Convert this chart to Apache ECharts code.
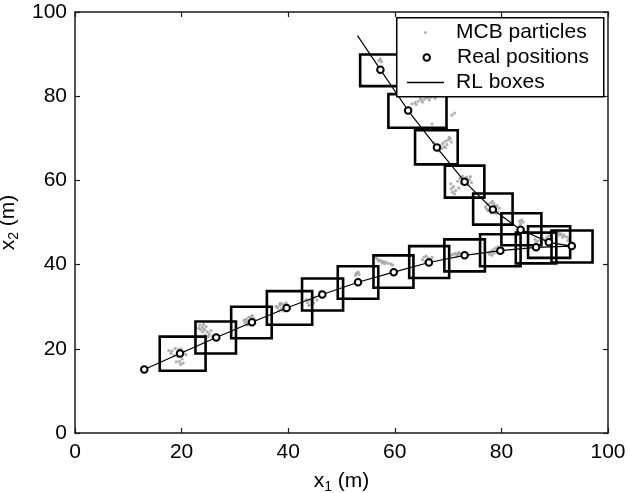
<!DOCTYPE html>
<html>
<head>
<meta charset="utf-8">
<script src="https://cdn.jsdelivr.net/npm/echarts@6/dist/echarts.min.js"></script>
<style>html,body{margin:0;padding:0;background:#fff}#c{width:628px;height:493px}</style>
</head>
<body>
<div id="c"></div>
<script>
// ---- data ----
const xTicks = [0, 20, 40, 60, 80, 100];
const yTicks = [0, 20, 40, 60, 80, 100];

// true trajectory polyline (starts above the first upper circle)
const trajectory = [
  [53.0, 94.4], [57.3, 86.3], [62.5, 76.6], [67.9, 67.8], [73.1, 59.7], [78.4, 53.1],
  [83.6, 48.3], [88.9, 45.3], [93.2, 44.4], [86.5, 44.1], [79.8, 43.3], [73.1, 42.2],
  [66.4, 40.5], [59.8, 38.2], [53.1, 35.8], [46.4, 32.9], [39.7, 29.7], [33.2, 26.3],
  [26.5, 22.7], [19.7, 18.9], [13.0, 15.1]
];

// real positions (circles)
const realPositions = [
  [57.3, 86.3], [62.5, 76.6], [67.9, 67.8], [73.1, 59.7], [78.4, 53.1], [83.6, 48.3],
  [88.9, 45.3], [93.2, 44.4], [86.5, 44.1], [79.8, 43.3], [73.1, 42.2], [66.4, 40.5],
  [59.8, 38.2], [53.1, 35.8], [46.4, 32.9], [39.7, 29.7], [33.2, 26.3], [26.5, 22.7],
  [19.7, 18.9], [13.0, 15.1]
];

// RL boxes: [xMin, xMax, yMin, yMax]
const rlBoxes = [
  [15.9, 24.5, 14.8, 22.9], [22.6, 30.2, 18.9, 26.5], [29.3, 36.9, 22.5, 30.0],
  [36.0, 44.5, 25.7, 33.7], [42.6, 50.3, 29.1, 36.7], [49.3, 56.9, 31.9, 39.6],
  [56.0, 63.5, 34.5, 42.2], [62.7, 70.2, 36.8, 44.4], [69.3, 76.9, 38.4, 46.0],
  [76.0, 83.6, 39.6, 47.2], [82.7, 90.3, 40.3, 47.6], [89.4, 97.1, 40.5, 48.1],
  [85.0, 92.9, 41.6, 49.1], [80.0, 87.5, 44.6, 52.2], [74.7, 82.1, 49.5, 56.9],
  [69.4, 76.8, 55.9, 63.5], [63.8, 71.8, 63.8, 71.9], [58.8, 69.7, 72.5, 80.5],
  [53.5, 61.2, 82.4, 89.9]
];

// MCB particles (gray dots)
const mcbParticles = [
  // near (19.7,18.9)
  [18.2,19.5],[18.8,20.1],[19.3,18.2],[20.1,17.6],[19.6,17.0],[20.4,19.3],[18.6,18.4],[19.0,16.9],
  [20.8,18.6],[19.9,20.0],[18.0,18.9],[20.3,16.6],[19.4,19.8],[17.6,19.6],[19.8,16.3],
  // near (26.5,22.7)
  [23.4,25.6],[23.9,25.1],[24.3,24.6],[24.8,24.0],[25.2,23.5],[24.0,24.0],[23.6,24.5],[25.5,24.3],
  [24.6,25.3],[25.0,22.9],[24.4,23.2],[23.2,24.9],[25.8,23.0],[24.1,25.8],[25.9,22.4],
  // near (33.2,26.3)
  [32.1,27.0],[32.6,27.5],[33.0,27.6],[33.5,27.2],[32.4,26.4],[31.9,26.2],[33.8,26.9],[32.8,26.0],
  [32.3,25.6],[33.3,27.9],[31.7,26.8],
  // near (39.7,29.7)
  [38.0,29.8],[38.4,30.3],[38.9,30.6],[39.3,30.4],[38.2,29.1],[38.7,29.5],[37.7,30.1],[39.0,29.0],
  [38.5,30.8],[39.6,30.9],
  // near (46.4,32.9)
  [43.6,31.0],[44.1,31.5],[44.6,31.9],[45.0,32.3],[44.3,30.6],[43.9,30.3],[45.4,31.6],[44.8,30.9],
  [45.8,32.6],[43.4,31.7],[46.0,33.6],
  // near (53.1,35.8)
  [52.8,37.9],[53.1,38.2],[52.6,37.5],[53.3,37.7],
  // near (59.8,38.2)
  [56.8,41.3],[57.3,41.0],[57.8,40.8],[58.3,40.6],[58.8,40.3],[59.3,40.1],[57.0,40.8],[57.6,40.4],
  [58.1,40.2],[59.6,39.9],[56.5,41.6],
  // near (66.4,40.5)
  [65.5,41.8],[65.9,42.0],[66.3,41.5],[66.7,41.2],[65.2,41.2],[66.0,40.9],[67.0,41.7],[65.7,40.7],
  // near (73.1,42.2)
  [71.0,42.5],[71.4,42.7],[71.8,42.4],[72.2,42.6],[72.6,42.3],[71.6,42.1],[70.6,42.2],[72.0,42.9],
  // near (79.8,43.3)
  [78.0,43.0],[78.4,43.5],[78.9,43.9],[79.4,44.2],[78.6,42.7],[79.2,42.9],[77.7,42.5],[80.2,43.9],[78.2,42.2],
  // near (86.5,44.1)
  [86.8,45.6],[87.3,45.9],[87.8,46.1],[86.5,45.2],[87.5,45.3],[88.2,45.7],[86.3,46.0],
  // near (93.2,44.4)
  [90.2,47.8],[90.7,47.6],[91.2,47.3],[91.7,47.0],[92.2,46.6],[92.7,46.2],[90.9,47.0],[91.5,46.5],
  [92.5,45.7],[93.0,45.3],[89.8,48.0],
  // near (88.9,45.3)
  [88.6,46.6],[89.1,46.9],[88.9,46.0],[89.5,46.3],[88.3,45.9],
  // near (83.6,48.3)
  [83.4,50.3],[83.8,50.6],[84.1,50.1],[83.6,49.7],
  // near (78.4,53.1)
  [77.0,53.7],[77.4,54.3],[77.9,54.6],[78.6,54.5],[79.2,54.0],[79.6,53.4],[79.3,52.6],[78.0,52.3],
  [77.5,52.8],[78.8,53.9],[77.2,53.2],[79.0,52.1],[78.3,55.0],
  // near (73.1,59.7)
  [72.2,60.5],[72.7,61.0],[73.5,60.8],[74.0,60.2],[74.4,59.5],[73.8,59.0],[72.5,59.3],[71.8,59.8],
  [71.0,58.5],[70.6,58.0],[71.4,57.6],[70.8,57.2],[72.0,58.2],[74.2,60.9],[70.5,59.2],[71.2,56.8],
  // near (67.9,67.8)
  [68.5,68.3],[69.0,68.8],[69.5,69.3],[70.0,69.6],[70.4,69.9],[69.2,68.0],[69.8,68.5],[70.6,69.1],
  [68.8,67.5],[70.2,70.2],[69.5,67.8],[68.3,67.0],[67.3,69.0],
  // near (62.5,76.6)
  [63.2,78.2],[63.8,78.5],[64.4,78.8],[65.0,79.1],[65.6,79.3],[66.2,79.6],[66.8,79.8],[67.4,80.0],
  [68.0,80.2],[68.6,80.4],[64.0,78.0],[65.2,78.6],[66.5,79.1],[67.6,79.5],[64.8,79.5],[66.0,80.0],
  [69.0,80.1],[70.7,75.5],[71.2,76.0],[67.0,73.4],
  // near (57.3,86.3)
  [57.0,88.5],[57.5,88.2],[57.3,88.9]
];

// ---- chart ----
const FONT = 'Liberation Sans, Arial, Helvetica, sans-serif';
const chart = echarts.init(document.getElementById('c'), null, {renderer: 'canvas'});

const axisCommon = {
  min: 0, max: 100, interval: 20,
  axisLine: {show: true, onZero: false, lineStyle: {color: '#1a1a1a', width: 1.5}},
  axisTick: {show: true, inside: true, length: 5, lineStyle: {color: '#1a1a1a', width: 1.2}},
  splitLine: {show: false}
};

const labelStyle = {fontFamily: FONT, fontSize: 21, color: '#000'};
const legendText = {fontFamily: FONT, fontSize: 21, color: '#000', lineHeight: 21};
const nameRich = {
  a: {fontFamily: FONT, fontSize: 21, color: '#000', lineHeight: 26},
  b: {fontFamily: FONT, fontSize: 14, color: '#000', lineHeight: 26, verticalAlign: 'bottom'}
};

chart.setOption({
  animation: false,
  backgroundColor: '#fff',
  grid: {left: 75, right: 20, top: 12, bottom: 60, containLabel: false, outerBoundsMode: 'none'},
  xAxis: [
    Object.assign({}, axisCommon, {
      type: 'value', position: 'bottom',
      axisLabel: Object.assign({margin: 9, formatter: v => String(v)}, labelStyle),
      name: '{a|x}{b|1}{a| (m)}',
      nameLocation: 'middle', nameGap: 35,
      nameTextStyle: {rich: nameRich}
    }),
    Object.assign({}, axisCommon, {
      type: 'value', position: 'top', axisLabel: {show: false}
    })
  ],
  yAxis: [
    Object.assign({}, axisCommon, {
      type: 'value', position: 'left',
      axisLabel: Object.assign({margin: 8, formatter: v => String(v)}, labelStyle),
      name: '{a|x}{b|2}{a| (m)}',
      nameLocation: 'middle', nameGap: 46, nameRotate: 90,
      nameTextStyle: {rich: nameRich}
    }),
    Object.assign({}, axisCommon, {
      type: 'value', position: 'right', axisLabel: {show: false}
    })
  ],
  legend: [
    {
      data: [{name: 'MCB particles', icon: 'circle'}],
      orient: 'vertical', left: 424, top: 22, padding: 0, z: 20,
      itemWidth: 3, itemHeight: 3,
      textStyle: Object.assign({padding: [0, 0, 0, 24]}, legendText),
      selectedMode: false
    },
    {
      data: [{name: 'Real positions', icon: 'circle',
              itemStyle: {color: '#fff', borderColor: '#000', borderWidth: 2}}],
      orient: 'vertical', left: 422.5, top: 47, padding: 0, z: 20,
      itemWidth: 6.5, itemHeight: 6.5,
      textStyle: Object.assign({padding: [0, 0, 0, 22]}, legendText),
      selectedMode: false
    },
    {
      data: [{name: 'RL boxes', icon: 'rect', itemStyle: {color: '#000', borderWidth: 0}}],
      orient: 'vertical', left: 407, top: 72, padding: 0, z: 20,
      itemWidth: 37, itemHeight: 1.6,
      textStyle: Object.assign({padding: [0, 0, 0, 7]}, legendText),
      selectedMode: false
    }
  ],
  graphic: [
    {
      type: 'rect', left: 396, top: 17, z: 15, silent: true,
      shape: {width: 207, height: 79},
      style: {fill: '#fff', stroke: '#000', lineWidth: 1.5}
    }
  ],
  series: [
    {
      name: 'MCB particles', type: 'scatter', data: mcbParticles,
      symbol: 'circle', symbolSize: 3.2,
      itemStyle: {color: '#9c9c9c'}, z: 1, silent: true
    },
    {
      name: 'RL boxes', type: 'custom', data: rlBoxes,
      encode: {x: [0, 1], y: [2, 3]},
      itemStyle: {color: '#000'},
      renderItem: function (params, api) {
        const p1 = api.coord([api.value(0), api.value(3)]);
        const p2 = api.coord([api.value(1), api.value(2)]);
        return {
          type: 'rect',
          shape: {x: p1[0], y: p1[1], width: p2[0] - p1[0], height: p2[1] - p1[1]},
          style: {fill: 'none', stroke: '#000', lineWidth: 2.6}
        };
      },
      z: 2, silent: true
    },
    {
      name: 'trajectory', type: 'line', data: trajectory,
      showSymbol: false, symbol: 'none',
      lineStyle: {color: '#000', width: 1.2},
      z: 3, silent: true
    },
    {
      name: 'Real positions', type: 'scatter', data: realPositions,
      symbol: 'circle', symbolSize: 6.5,
      itemStyle: {color: '#fff', borderColor: '#000', borderWidth: 2, opacity: 1},
      z: 4, silent: true
    }
  ]
});
</script>
</body>
</html>
